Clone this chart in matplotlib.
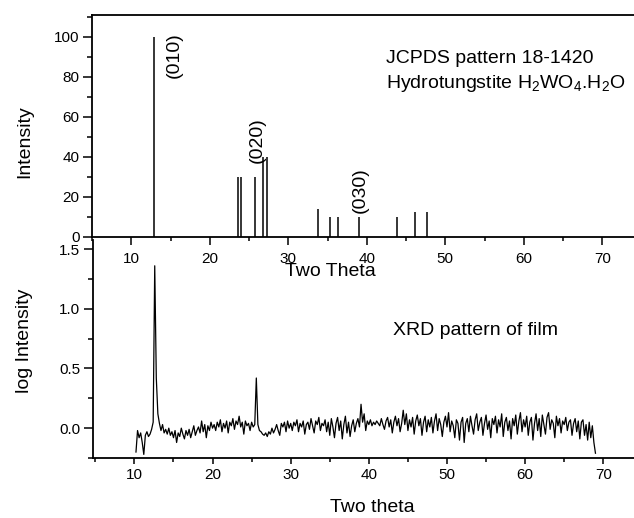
import numpy as np
import matplotlib
matplotlib.use("Agg")
import matplotlib.pyplot as plt
import matplotlib.ticker as mticker

plt.rcParams["font.family"] = ["Liberation Sans", "DejaVu Sans"]
plt.rcParams["mathtext.fontset"] = "custom"
plt.rcParams["mathtext.rm"] = "Liberation Sans"

W, H, DPI = 634, 518, 100

# JCPDS 18-1420 stick pattern
jcpds_theta = [12.9, 23.6, 24.0, 25.7, 26.8, 27.3, 33.8, 35.3, 36.3, 39.0, 43.8, 46.1, 47.7]
jcpds_int = [100, 30, 30, 30, 40, 40, 14, 10, 10, 10, 10, 12.5, 12.5]

hkl_labels = ["(010)", "(020)", "(030)"]
hkl_x = [15.5, 26.0, 39.2]
hkl_y = [91, 48.5, 23.5]

# measured film pattern, 0.2 deg steps from 10.2 to 69.0
film_log = [
    -0.20, -0.02, -0.08, -0.04, -0.12, -0.22, -0.06, -0.03, -0.07, -0.05,
    -0.01, 0.05, 1.36, 0.42, 0.12, 0.04, -0.02, 0.03, -0.04, -0.01,
    -0.05, 0.00, -0.06, -0.03, -0.08, -0.02, -0.12, -0.04, -0.07, 0.00,
    -0.05, -0.09, -0.02, -0.06, -0.01, -0.08, -0.03, 0.02, -0.06, -0.02,
    0.01, -0.04, 0.06, -0.03, 0.03, -0.08, 0.02, -0.02, 0.05, 0.00,
    0.03, -0.02, 0.05, 0.01, 0.07, -0.03, 0.04, 0.00, 0.06, -0.04,
    0.05, 0.02, 0.08, -0.01, 0.06, 0.03, 0.10, 0.01, 0.05, -0.05,
    0.06, 0.02, 0.04, -0.02, 0.05, 0.01, 0.03, 0.42, 0.03, -0.02,
    -0.03, -0.05, -0.06, -0.04, -0.07, -0.03, -0.05, 0.00, -0.04, -0.01,
    0.03, -0.02, -0.06, 0.04, 0.01, 0.05, -0.03, 0.06, 0.00, 0.04,
    -0.02, 0.05, 0.02, 0.07, -0.03, 0.04, 0.01, 0.06, -0.05, 0.03,
    0.05, -0.01, 0.08, 0.02, -0.04, 0.06, 0.03, 0.09, -0.02, 0.04,
    0.02, 0.07, -0.03, 0.05, -0.06, 0.08, 0.01, -0.08, 0.04, 0.09,
    -0.02, 0.06, -0.09, 0.03, 0.10, -0.04, 0.05, -0.07, 0.02, 0.07,
    -0.03, 0.04, 0.08, 0.01, 0.20, 0.05, 0.12, -0.02, 0.06, 0.03,
    0.07, 0.02, 0.05, 0.03, 0.06, 0.04, 0.02, 0.08, 0.03, -0.01,
    0.06, 0.09, 0.01, 0.07, -0.04, 0.05, 0.10, 0.02, 0.08, -0.03,
    0.04, 0.15, 0.03, 0.12, -0.02, 0.07, 0.01, 0.09, -0.05, 0.06,
    0.11, 0.02, 0.08, -0.06, 0.05, 0.10, -0.03, 0.07, 0.01, 0.09,
    -0.04, 0.06, 0.12, -0.02, 0.08, 0.03, -0.07, 0.05, 0.10, 0.01,
    0.13, -0.03, 0.06, 0.02, -0.08, 0.07, 0.04, -0.10, 0.05, 0.09,
    -0.12, 0.04, 0.08, -0.03, 0.10, 0.02, -0.05, 0.07, 0.12, -0.02,
    0.05, 0.09, -0.06, 0.04, 0.11, -0.01, 0.06, -0.08, 0.08, 0.03,
    0.10, -0.04, 0.07, 0.01, 0.12, -0.07, 0.05, 0.09, -0.02, 0.06,
    -0.09, 0.08, 0.02, 0.11, -0.05, 0.06, 0.13, -0.03, 0.07, 0.01,
    0.10, -0.06, 0.05, 0.09, -0.10, 0.04, 0.12, -0.02, 0.08, -0.07,
    0.11, 0.03, -0.05, 0.09, 0.13, -0.01, 0.07, 0.04, -0.08, 0.10,
    0.02, 0.08, -0.04, 0.06, 0.03, 0.09, -0.02, 0.05, 0.07, -0.06,
    0.04, 0.08, -0.03, 0.06, -0.09, 0.05, 0.07, -0.06, 0.03, -0.10,
    0.05, -0.08, 0.02, -0.12, -0.21,
]
film_theta = np.linspace(10.2, 69.0, len(film_log))


def px_axes(fig, left, top, right, bottom):
    return fig.add_axes([left / W, 1 - bottom / H, (right - left) / W, (bottom - top) / H])


def style_ticks(ax, xlen, xpad):
    for s in ax.spines.values():
        s.set_linewidth(1.3)
    ax.spines["right"].set_visible(False)
    ax.tick_params(axis="both", which="both", direction="out", width=1.1,
                   labelsize=11, top=False, right=False)
    ax.tick_params(axis="y", which="major", length=6.5, pad=2.5)
    ax.tick_params(axis="y", which="minor", length=3.5)
    ax.tick_params(axis="x", which="major", length=xlen, pad=xpad)
    ax.tick_params(axis="x", which="minor", length=3)
    ax.xaxis.set_major_locator(mticker.MultipleLocator(10))
    ax.xaxis.set_minor_locator(mticker.MultipleLocator(5))


fig = plt.figure(figsize=(W / DPI, H / DPI), dpi=DPI)

# bottom: film pattern (added first so the top panel's labels sit above it)
ax2 = px_axes(fig, 93, 240, 640, 458)
ax2.patch.set_visible(False)
ax2.plot(film_theta, film_log, color="black", linewidth=0.9)
ax2.set_xlim(4.7, 74.7)
ax2.set_ylim(-0.25, 1.576)
style_ticks(ax2, 4.5, 2.5)
ax2.spines["top"].set_visible(False)
ax2.yaxis.set_major_locator(mticker.MultipleLocator(0.5))
ax2.yaxis.set_minor_locator(mticker.MultipleLocator(0.25))
ax2.yaxis.set_major_formatter(mticker.FormatStrFormatter("%.1f"))
ax2.set_ylabel("log Intensity", fontsize=14)
ax2.yaxis.set_label_coords(-0.11, 0.537)
ax2.set_xlabel("Two theta", fontsize=14, va="top")
ax2.xaxis.set_label_coords(0.51, -0.19)
ax2.text(43.05, 0.78, "XRD pattern of film", fontsize=14, va="baseline")

# top: reference pattern
ax1 = px_axes(fig, 92, 15, 640, 237)
ax1.patch.set_visible(False)
ax1.vlines(jcpds_theta, 0, jcpds_int, color="black", linewidth=1.1)
ax1.set_xlim(5, 74.8)
ax1.set_ylim(0, 111)
style_ticks(ax1, 5.5, 5)
ax1.yaxis.set_major_locator(mticker.MultipleLocator(20))
ax1.yaxis.set_minor_locator(mticker.MultipleLocator(10))
ax1.set_ylabel("Intensity", fontsize=14)
ax1.yaxis.set_label_coords(-0.108, 0.43)
ax1.set_xlabel("Two Theta", fontsize=14, va="top")
ax1.xaxis.set_label_coords(0.4354, -0.118)
for lab, x, y in zip(hkl_labels, hkl_x, hkl_y):
    ax1.text(x, y, lab, rotation=90, ha="center", va="center", fontsize=14)
ax1.text(42.4, 87, "JCPDS pattern 18-1420", fontsize=14, va="baseline")
ax1.text(42.4, 74.5, r"Hydrotungstite H$_\mathrm{2}$WO$_\mathrm{4}$.H$_\mathrm{2}$O",
         fontsize=14, va="baseline")

fig.savefig("out.png", dpi=DPI)
